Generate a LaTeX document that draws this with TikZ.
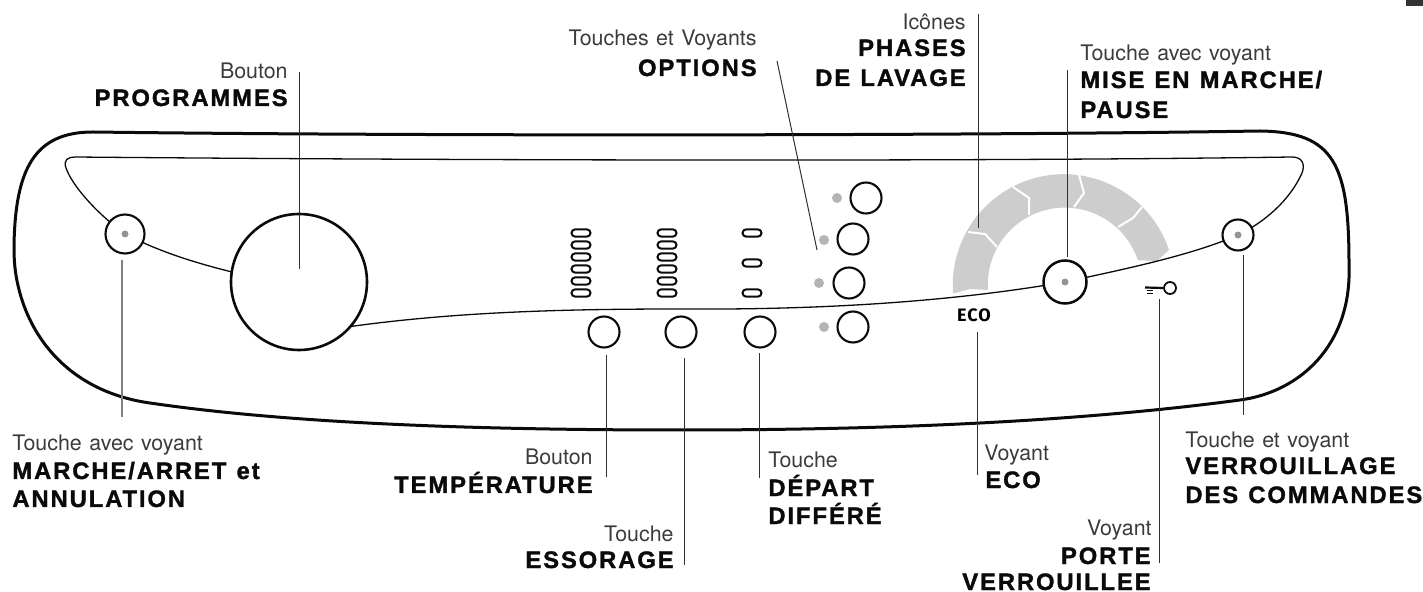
\documentclass[tikz,border=0pt]{standalone}
\usepackage{fontspec}
\setmainfont{TeX Gyre Heros}[WordSpace=1.25]
\newfontfamily\boldlbl[LetterSpace=8,FakeBold=1.4,WordSpace=1.2]{Liberation Sans Bold}
\newfontfamily\ecofont[LetterSpace=6]{Fira Sans}
\definecolor{ink}{HTML}{0A0A0A}
\definecolor{arcgray}{HTML}{CDCDCD}
\definecolor{dotgray}{HTML}{B4B4B4}
\definecolor{dotdark}{HTML}{949494}
\tikzset{
 panel/.style={draw=ink,line width=1.5pt,line join=round},
 thin line/.style={draw=ink,line width=0.65pt},
 leader/.style={draw=ink!85,line width=0.5pt},
 keybtn/.style={circle,draw=ink,line width=1.05pt,fill=white,inner sep=0pt,minimum size=#1},
 led/.style={circle,fill=dotgray,inner sep=0pt,minimum size=5pt},
 innerdot/.style={circle,fill=dotdark,inner sep=0pt,minimum size=3.5pt},
 pill/.style={draw=ink,line width=1pt,rounded corners=1.8pt,fill=white,inner sep=0pt,minimum width=9.5pt,minimum height=3.6pt},
 lt/.style={font=\fontsize{10.7}{12}\selectfont,text=ink!80,inner sep=0pt},
 bd/.style={font=\fontsize{11.9}{13}\boldlbl,text=ink,inner sep=0pt},
 sep/.style={draw=white,line width=1pt,line join=miter}
}
\begin{document}
\begin{tikzpicture}[x=0.5pt,y=-0.5pt]
\useasboundingbox (0,0) rectangle (1423,592);
\fill[black!80] (1406,0) rectangle (1423,6);
% gray arc
\fill[arcgray] (955,293) -- (970,289) -- (988,290)
  arc[start angle=184,end angle=18.5,x radius=77,y radius=-77] -- (1157,261) -- (1169,250)
  arc[start angle=18.5,end angle=184,x radius=111,y radius=-111] -- cycle;
\draw[sep] (968,232) -- (985,234) -- (997,247);
\draw[sep] (1013,187) -- (1029,198) -- (1029,215);
\draw[sep] (1079,175) -- (1084,193) -- (1074,207);
\draw[sep] (1142,207) -- (1133,218) -- (1118,227);
% panel
\draw[panel] (93,132) .. controls (400,136) and (950,136) .. (1260,131)
  .. controls (1335,132) and (1349,165) .. (1349,265)
  .. controls (1352,345) and (1300,392) .. (1240,400)
  .. controls (1060,424) and (860,430) .. (680,430)
  .. controls (500,430) and (300,425) .. (150,403)
  .. controls (85,394) and (40,355) .. (22,300)
  .. controls (15,278) and (14,262) .. (14,247)
  .. controls (15,168) and (35,132) .. (93,132) -- cycle;
% inner line
\draw[thin line] (125,234) .. controls (95,212) and (72,185) .. (66,168)
  .. controls (63,160) and (68,157) .. (75,157)
  .. controls (400,160) and (950,162) .. (1292,157)
  .. controls (1303,157) and (1305,165) .. (1302,173)
  .. controls (1290,200) and (1265,222) .. (1238,235)
  .. controls (1190,256) and (1120,270) .. (1065,282)
  .. controls (950,302) and (820,310) .. (680,309)
  .. controls (560,309) and (450,312) .. (340,328);
\draw[thin line] (125,234) .. controls (160,252) and (195,263) .. (240,274);
% controls
\node[keybtn=19.5pt] (big0) at (125,234) {};
\node[keybtn=68pt,line width=1.3pt] (big) at (299,282) {};
\node[innerdot] (d1) at (125,234) {};
\node[keybtn=21.5pt,line width=1.25pt] (mise) at (1065,282) {};
\node[innerdot] (d2) at (1065,282) {};
\node[keybtn=15.5pt] (vb) at (1238,235) {};
\node[innerdot] (d3) at (1238,235) {};
\foreach \n/\x/\y in {t/604/332,e/681/332,dd/760/332,o1/866/198,o2/853/239,o3/849/283,o4/853/327}
  \node[keybtn=15.5pt] (\n) at (\x,\y) {};
\foreach \n/\x/\y in {l1/837/198,l2/824/240,l3/819/283,l4/824/327}
  \node[led] (\n) at (\x,\y) {};
\foreach \y in {233,245,257,269,281,293}{
  \node[pill] (pa\y) at (581,\y) {};
  \node[pill] (pb\y) at (667,\y) {};}
\foreach \y in {233,263,293}
  \node[pill] (pc\y) at (752,\y) {};
% ECO and key
\node[font=\fontsize{9}{10}\ecofont\bfseries,inner sep=0pt,anchor=base] (eco) at (974,322) {ECO};
\node[circle,draw=ink,line width=0.9pt,minimum size=6pt,inner sep=0pt] (key) at (1170,288) {};
\draw[draw=ink,line width=1.1pt] (key.west) -- (1145,287.5);
\draw[draw=ink,line width=0.7pt] (1147,290.8) -- (1153,290.8) (1147,293.5) -- (1153,293.5);
% leader coordinates
\coordinate (a1) at (299,72); \coordinate (a2) at (299,269);
\coordinate (b1) at (122,260); \coordinate (b2) at (122,417);
\coordinate (c1) at (777,61); \coordinate (c2) at (817,250);
\coordinate (f1) at (978,14); \coordinate (f2) at (978,228);
\coordinate (g1) at (1067,70); \coordinate (g2) at (1067,257);
\coordinate (h1) at (606,355); \coordinate (h2) at (606,477);
\coordinate (i1) at (684,358); \coordinate (i2) at (684,565);
\coordinate (j1) at (759,353); \coordinate (j2) at (759,478);
\coordinate (k1) at (977,332); \coordinate (k2) at (977,475);
\coordinate (m1) at (1159,299); \coordinate (m2) at (1159,563);
\coordinate (n1) at (1243,255); \coordinate (n2) at (1243,415);
\foreach \p/\q in {a1/a2,c1/c2,f1/f2,g1/g2,h1/h2,i1/i2,j1/j2,k1/k2,m1/m2,n1/n2}
  \draw[leader] (\p) -- (\q);
\draw[leader,draw=black!50,line width=0.7pt] (b1) -- (b2);
% labels
\node[lt,anchor=base east] (t1) at (288,79) {Bouton};
\node[bd,anchor=base east] (t2) at (288,106) {PROGRAMMES};
\node[lt,anchor=base east] (t3) at (757,46) {Touches et Voyants};
\node[bd,anchor=base east] (t4) at (757,76) {OPTIONS};
\node[lt,anchor=base east] (t5) at (966,30) {Icônes};
\node[bd,anchor=base east] (t6) at (966,56) {PHASES};
\node[bd,anchor=base east] (t7) at (966,86) {DE LAVAGE};
\node[lt,anchor=base west] (t8) at (1080,61) {Touche avec voyant};
\node[bd,anchor=base west] (t9) at (1080,88) {MISE EN MARCHE/};
\node[bd,anchor=base west] (t10) at (1080,118) {PAUSE};
\node[lt,anchor=base west] (t11) at (12,451) {Touche avec voyant};
\node[bd,anchor=base west] (t12) at (12,479) {MARCHE/ARRET et};
\node[bd,anchor=base west] (t13) at (12,507) {ANNULATION};
\node[lt,anchor=base east] (t14) at (593,465) {Bouton};
\node[bd,anchor=base east] (t15) at (593,493) {TEMPÉRATURE};
\node[lt,anchor=base east] (t16) at (674,541) {Touche};
\node[bd,anchor=base east] (t17) at (674,568) {ESSORAGE};
\node[lt,anchor=base west] (t18) at (768,468) {Touche};
\node[bd,anchor=base west] (t19) at (768,496) {DÉPART};
\node[bd,anchor=base west] (t20) at (768,524) {DIFFÉRÉ};
\node[lt,anchor=base west] (t21) at (984,461) {Voyant};
\node[bd,anchor=base west] (t22) at (985,488) {ECO};
\node[lt,anchor=base east] (t23) at (1152,536) {Voyant};
\node[bd,anchor=base east] (t24) at (1151,564) {PORTE};
\node[bd,anchor=base east] (t25) at (1151,590) {VERROUILLEE};
\node[lt,anchor=base west] (t26) at (1185,448) {Touche et voyant};
\node[bd,anchor=base west] (t27) at (1185,474) {VERROUILLAGE};
\node[bd,anchor=base west] (t28) at (1185,503) {DES COMMANDES};
\end{tikzpicture}
\end{document}
